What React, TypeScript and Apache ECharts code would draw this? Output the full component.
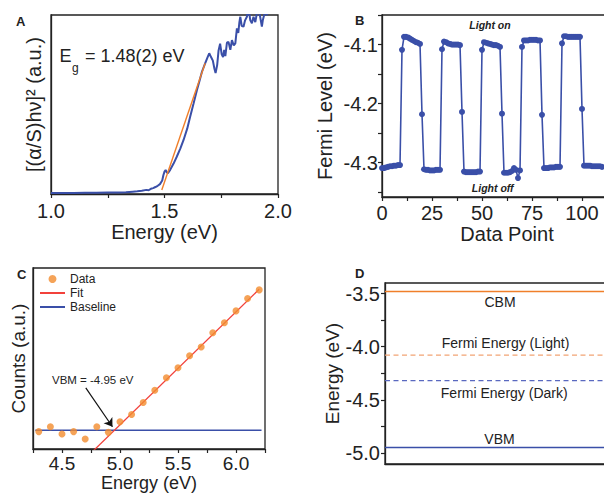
import React, { useEffect, useRef } from "react";
import * as echarts from "echarts";

const FONT = "'Liberation Sans', Arial, Helvetica, sans-serif";
const INK = "#222222";
const BLUE = "#3a4fa8";
const ORANGE = "#f07f2a";

// ---------- Panel A : Tauc plot ----------
const A_ENERGY = [
  1.0, 1.05, 1.1, 1.15, 1.2, 1.25, 1.3, 1.33, 1.36, 1.38, 1.4, 1.42, 1.43, 1.44, 1.45, 1.46, 1.47,
  1.48, 1.49, 1.495, 1.5, 1.505, 1.51, 1.515, 1.525, 1.54, 1.554, 1.57, 1.584, 1.6, 1.613, 1.628,
  1.643, 1.655, 1.665, 1.679, 1.69, 1.697, 1.705, 1.713, 1.72, 1.725, 1.732, 1.738, 1.745, 1.752,
  1.758, 1.763, 1.768, 1.775, 1.782, 1.79, 1.797, 1.805, 1.812, 1.819, 1.825, 1.83, 1.834, 1.84,
  1.848, 1.855, 1.863, 1.87, 1.878, 1.885, 1.892, 1.9, 1.907, 1.914, 1.92, 1.929, 1.933, 1.937,
  1.944, 1.951, 1.958,
];
const A_SIGNAL = [
  0.6, 0.6, 0.6, 0.7, 0.7, 0.8, 0.9, 1.0, 1.3, 1.5, 1.8, 2.3, 2.1, 2.9, 3.3, 3.9, 4.6,
  5.5, 7.5, 10.5, 12.5, 13.4, 12.2, 11.6, 13.5, 17, 20.8, 25.5, 30.2, 36.5, 43.2, 50.5,
  58.1, 63.5, 68.3, 73, 76.5, 78.6, 76.5, 74.5, 70, 67.6, 72, 80, 84, 78,
  76.5, 80.5, 77, 84.5, 85, 80.5, 86, 83, 84.2, 92.6, 90, 96, 99, 94,
  93.5, 97, 99, 104, 97, 95.4, 99, 96, 101, 104, 100, 93.5, 97, 99,
  102, 100, 103,
];
const A_FIT_ENERGY = [1.488, 1.679];
const A_FIT_SIGNAL = [2.2, 73];
const A_X_TICKS = [1, 1.25, 1.5, 1.75, 2];
const A_X_LABELS = [1, 1.5, 2];

// ---------- Panel B : Fermi level vs data point ----------
const B_FERMI = [
  -4.309, -4.309, -4.308, -4.307, -4.306, -4.306, -4.305, -4.305, -4.304, -4.304,
  -4.109,
  -4.087, -4.087, -4.088, -4.09, -4.092, -4.094, -4.096, -4.097, -4.099,
  -4.218,
  -4.311, -4.312, -4.312, -4.313, -4.313, -4.313, -4.312, -4.312, -4.312,
  -4.108,
  -4.095, -4.096, -4.098, -4.099, -4.1, -4.1, -4.1, -4.1, -4.101,
  -4.214,
  -4.315, -4.316, -4.316, -4.316, -4.316, -4.316, -4.316, -4.315, -4.315,
  -4.109,
  -4.096, -4.097, -4.098, -4.099, -4.1, -4.101, -4.101, -4.102, -4.104,
  -4.217,
  -4.317, -4.317, -4.317, -4.316, -4.314, -4.309, -4.312, -4.326, -4.313,
  -4.104,
  -4.093, -4.093, -4.093, -4.092, -4.092, -4.092, -4.092, -4.093, -4.093,
  -4.219,
  -4.309, -4.309, -4.309, -4.308, -4.308, -4.308, -4.307, -4.307, -4.307,
  -4.098,
  -4.086, -4.086, -4.087, -4.087, -4.087, -4.087, -4.087, -4.087, -4.087,
  -4.209,
  -4.305, -4.305, -4.305, -4.305, -4.306, -4.306, -4.306, -4.306, -4.306, -4.307,
];
const B_X_TICKS = [0, 12.5, 25, 37.5, 50, 62.5, 75, 87.5, 100, 112.5, 125];
const B_X_LABELS = [0, 25, 50, 75, 100];
const B_Y_TICKS = [-4.35, -4.3, -4.25, -4.2, -4.15, -4.1, -4.05];
const B_Y_LABELS = [-4.3, -4.2, -4.1];

// ---------- Panel C : UPS onset ----------
const C_ENERGY = [
  4.3, 4.4, 4.5, 4.6, 4.7, 4.8, 4.9, 5.0, 5.1, 5.2, 5.3, 5.4, 5.5, 5.6, 5.7, 5.8, 5.9, 6.0, 6.1, 6.2,
];
const C_COUNTS = [
  9.6, 12.3, 8.3, 9.6, 5.5, 12.3, 9.2, 15.1, 19.1, 25.7, 32.5, 39.4, 44.9, 51.5, 56.4, 64.2, 69.8,
  76.3, 83.1, 87.9,
];
const C_FIT_ENERGY = [4.77, 6.2];
const C_FIT_COUNTS = [-1, 88.3];
const C_BASE_ENERGY = [4.27, 6.22];
const C_BASE_COUNTS = [10.3, 10.3];
const C_ARROW_ENERGY = [4.705, 4.935];
const C_ARROW_COUNTS = [33.8, 12.3];
const C_X_TICKS = [4.25, 4.5, 4.75, 5, 5.25, 5.5, 5.75, 6, 6.25];
const C_X_LABELS = [4.5, 5, 5.5, 6];

// ---------- Panel D : band diagram ----------
const D_LEVEL_NAMES = ["CBM", "Fermi Energy (Light)", "Fermi Energy (Dark)", "VBM"];
const D_LEVELS = [-3.48, -4.08, -4.32, -4.95];
const D_Y_TICKS = [-5, -4.75, -4.5, -4.25, -4, -3.75, -3.5];
const D_Y_LABELS = [-5, -4.5, -4, -3.5];

const fix1 = (v: number) => v.toFixed(1);

function xAxisBase(gridIndex: number, min: number, max: number, ticks: number[], labels: number[] | null, fmt: (v: number) => string, name: string, nameGap: number, fontSize: number, labelMargin: number, nameFontSize?: number) {
  return {
    type: "value",
    gridIndex,
    min,
    max,
    name,
    nameLocation: "middle",
    nameGap,
    nameTextStyle: { fontSize: nameFontSize || fontSize, color: INK, fontFamily: FONT },
    axisLine: { show: true, onZero: false, lineStyle: { color: INK, width: 1.3 } },
    axisTick: labels ? { show: true, inside: false, length: 4, customValues: ticks, lineStyle: { color: INK, width: 1.2 } } : { show: false },
    axisLabel: labels
      ? { show: true, customValues: labels, formatter: fmt, fontSize: fontSize, color: INK, margin: labelMargin, fontFamily: FONT }
      : { show: false },
    splitLine: { show: false },
  };
}

export default function App() {
  const ref = useRef<HTMLDivElement>(null);

  useEffect(() => {
    if (!ref.current) return;
    const chart = echarts.init(ref.current, null, { renderer: "svg" });

    const gridStyle = {
      show: true, borderColor: INK, borderWidth: 1.3, backgroundColor: "transparent",
      containLabel: false, outerBoundsMode: "none",
    };

    const option: any = {
      animation: false,
      backgroundColor: "#ffffff",
      textStyle: { fontFamily: FONT },
      grid: [
        { ...gridStyle, left: 51, top: 15, width: 227, height: 179 },
        { ...gridStyle, left: 382, top: 15, width: 250, height: 182 },
        { ...gridStyle, left: 33, top: 268, width: 232, height: 181 },
        { ...gridStyle, left: 385, top: 283, width: 236, height: 181 },
      ],
      xAxis: [
        xAxisBase(0, 1, 2, A_X_TICKS, A_X_LABELS, fix1, "Energy (eV)", 26, 20, 7),
        xAxisBase(1, 0, 125, B_X_TICKS, B_X_LABELS, (v: number) => String(v), "Data Point", 23, 20, 6),
        xAxisBase(2, 4.25, 6.25, C_X_TICKS, C_X_LABELS, fix1, "Energy (eV)", 22, 19, 5, 18),
        xAxisBase(3, 0, 1, [], null, fix1, "", 0, 19, 6),
      ],
      yAxis: [
        {
          type: "value", gridIndex: 0, min: 0, max: 100,
          name: "[(α/S)hν]² (a.u.)", nameLocation: "middle", nameGap: 7,
          nameTextStyle: { fontSize: 20, color: INK, fontFamily: FONT },
          axisLine: { show: true, lineStyle: { color: INK, width: 1.3 } },
          axisTick: { show: false }, axisLabel: { show: false }, splitLine: { show: false },
        },
        {
          type: "value", gridIndex: 1, min: -4.358, max: -4.05,
          name: "Fermi Level (eV)", nameLocation: "middle", nameGap: 47,
          nameTextStyle: { fontSize: 20, color: INK, fontFamily: FONT },
          axisLine: { show: true, onZero: false, lineStyle: { color: INK, width: 1.3 } },
          axisTick: { show: true, length: 4, customValues: B_Y_TICKS, lineStyle: { color: INK, width: 1.2 } },
          axisLabel: { show: true, customValues: B_Y_LABELS, formatter: fix1, fontSize: 20, color: INK, margin: 4, fontFamily: FONT },
          splitLine: { show: false },
        },
        {
          type: "value", gridIndex: 2, min: 0, max: 100,
          name: "Counts (a.u.)", nameLocation: "middle", nameGap: 5,
          nameTextStyle: { fontSize: 19, color: INK, fontFamily: FONT },
          axisLine: { show: true, lineStyle: { color: INK, width: 1.3 } },
          axisTick: { show: false }, axisLabel: { show: false }, splitLine: { show: false },
        },
        {
          type: "value", gridIndex: 3, min: -5.105, max: -3.4,
          name: "Energy (eV)", nameLocation: "middle", nameGap: 42,
          nameTextStyle: { fontSize: 19, color: INK, fontFamily: FONT },
          axisLine: { show: true, onZero: false, lineStyle: { color: INK, width: 1.3 } },
          axisTick: { show: true, length: 4, customValues: D_Y_TICKS, lineStyle: { color: INK, width: 1.2 } },
          axisLabel: { show: true, customValues: D_Y_LABELS, formatter: fix1, fontSize: 20, color: INK, margin: 5, fontFamily: FONT },
          splitLine: { show: false },
        },
      ],
      legend: {
        left: 39, top: 273, padding: 0, orient: "vertical", itemWidth: 25, itemHeight: 8, itemGap: 2,
        textStyle: { fontSize: 12, color: INK, fontFamily: FONT },
        data: ["Data", "Fit", "Baseline"],
      },
      series: [
        // A
        {
          name: "Tauc", type: "line", xAxisIndex: 0, yAxisIndex: 0, showSymbol: false, symbol: "none",
          data: A_ENERGY.map((e, i) => [e, A_SIGNAL[i]]),
          lineStyle: { color: BLUE, width: 2 }, itemStyle: { color: BLUE }, z: 2,
        },
        {
          name: "TaucFit", type: "line", xAxisIndex: 0, yAxisIndex: 0, showSymbol: false, symbol: "none",
          data: A_FIT_ENERGY.map((e, i) => [e, A_FIT_SIGNAL[i]]),
          lineStyle: { color: ORANGE, width: 1.4 }, itemStyle: { color: ORANGE }, z: 3,
        },
        // B
        {
          name: "Fermi", type: "line", xAxisIndex: 1, yAxisIndex: 1, symbol: "circle", symbolSize: 6, showSymbol: true,
          data: B_FERMI.map((v, i) => [i, v]),
          lineStyle: { color: BLUE, width: 1.6 }, itemStyle: { color: BLUE },
        },
        // C
        {
          name: "Baseline", type: "line", xAxisIndex: 2, yAxisIndex: 2, showSymbol: false,
          symbol: "line", symbolRotate: 90,
          data: C_BASE_ENERGY.map((e, i) => [e, C_BASE_COUNTS[i]]),
          lineStyle: { color: BLUE, width: 1.5 }, itemStyle: { color: BLUE }, z: 2,
        },
        {
          name: "Fit", type: "line", xAxisIndex: 2, yAxisIndex: 2, showSymbol: false,
          symbol: "line", symbolRotate: 90,
          data: C_FIT_ENERGY.map((e, i) => [e, C_FIT_COUNTS[i]]),
          lineStyle: { color: "#f2413b", width: 1.3 }, itemStyle: { color: "#f2413b" }, z: 2,
          markLine: {
            silent: true, symbol: ["none", "arrow"], symbolSize: 8, animation: false,
            label: { show: false },
            lineStyle: { color: "#111111", width: 1.2, type: "solid" },
            data: [[{ coord: [C_ARROW_ENERGY[0], C_ARROW_COUNTS[0]] }, { coord: [C_ARROW_ENERGY[1], C_ARROW_COUNTS[1]] }]],
          },
        },
        {
          name: "Data", type: "scatter", xAxisIndex: 2, yAxisIndex: 2, symbol: "circle", symbolSize: 7,
          data: C_ENERGY.map((e, i) => [e, C_COUNTS[i]]),
          itemStyle: { color: "#f28c2e" }, z: 4,
        },
        // D
        ...D_LEVELS.map((lv, i) => ({
          name: D_LEVEL_NAMES[i], type: "line", xAxisIndex: 3, yAxisIndex: 3, showSymbol: false, symbol: "none",
          data: [[0, lv], [1, lv]],
          lineStyle: {
            color: [ORANGE, "#f2a474", "#5a69c0", BLUE][i],
            width: i === 0 || i === 3 ? 1.5 : 1.2,
            type: i === 0 || i === 3 ? "solid" : [5, 3.5],
          },
        })),
      ],
      graphic: [
        { type: "text", left: 16, top: 15, style: { text: "A", font: `bold 13px ${FONT}`, fill: INK } },
        { type: "text", left: 355, top: 14, style: { text: "B", font: `bold 13px ${FONT}`, fill: INK } },
        { type: "text", left: 17, top: 268, style: { text: "C", font: `bold 13px ${FONT}`, fill: INK } },
        { type: "text", left: 355, top: 267, style: { text: "D", font: `bold 13px ${FONT}`, fill: INK } },
        // A annotation
        { type: "text", x: 59.5, y: 56, style: { text: "E", font: `18px ${FONT}`, fill: INK, verticalAlign: "middle", align: "left" } },
        { type: "text", x: 72, y: 68, style: { text: "g", font: `12px ${FONT}`, fill: INK, verticalAlign: "middle", align: "left" } },
        { type: "text", x: 85, y: 56, style: { text: "= 1.48(2) eV", font: `18px ${FONT}`, fill: INK, verticalAlign: "middle", align: "left" } },
        // B annotations
        { type: "text", x: 490, y: 25, style: { text: "Light on", font: `italic bold 10.5px ${FONT}`, fill: INK, align: "center", verticalAlign: "middle" } },
        { type: "text", x: 492.7, y: 187.7, style: { text: "Light off", font: `italic bold 10.5px ${FONT}`, fill: INK, align: "center", verticalAlign: "middle" } },
        // C annotation
        { type: "text", x: 52, y: 379.5, style: { text: "VBM = -4.95 eV", font: `11.5px ${FONT}`, fill: INK, align: "left", verticalAlign: "middle" } },
        // D level labels
        { type: "text", x: 500, y: 301.7, style: { text: D_LEVEL_NAMES[0], font: `14px ${FONT}`, fill: INK, align: "center", verticalAlign: "middle" } },
        { type: "text", x: 505.5, y: 343, style: { text: D_LEVEL_NAMES[1], font: `14px ${FONT}`, fill: INK, align: "center", verticalAlign: "middle" } },
        { type: "text", x: 504.2, y: 393, style: { text: D_LEVEL_NAMES[2], font: `14px ${FONT}`, fill: INK, align: "center", verticalAlign: "middle" } },
        { type: "text", x: 499.5, y: 438.7, style: { text: D_LEVEL_NAMES[3], font: `14px ${FONT}`, fill: INK, align: "center", verticalAlign: "middle" } },
      ],
    };

    chart.setOption(option);
    return () => {
      chart.dispose();
    };
  }, []);

  return (
    <div
      ref={ref}
      style={{ position: "fixed", left: 0, top: 0, width: 604, height: 494, background: "#fff" }}
    />
  );
}
